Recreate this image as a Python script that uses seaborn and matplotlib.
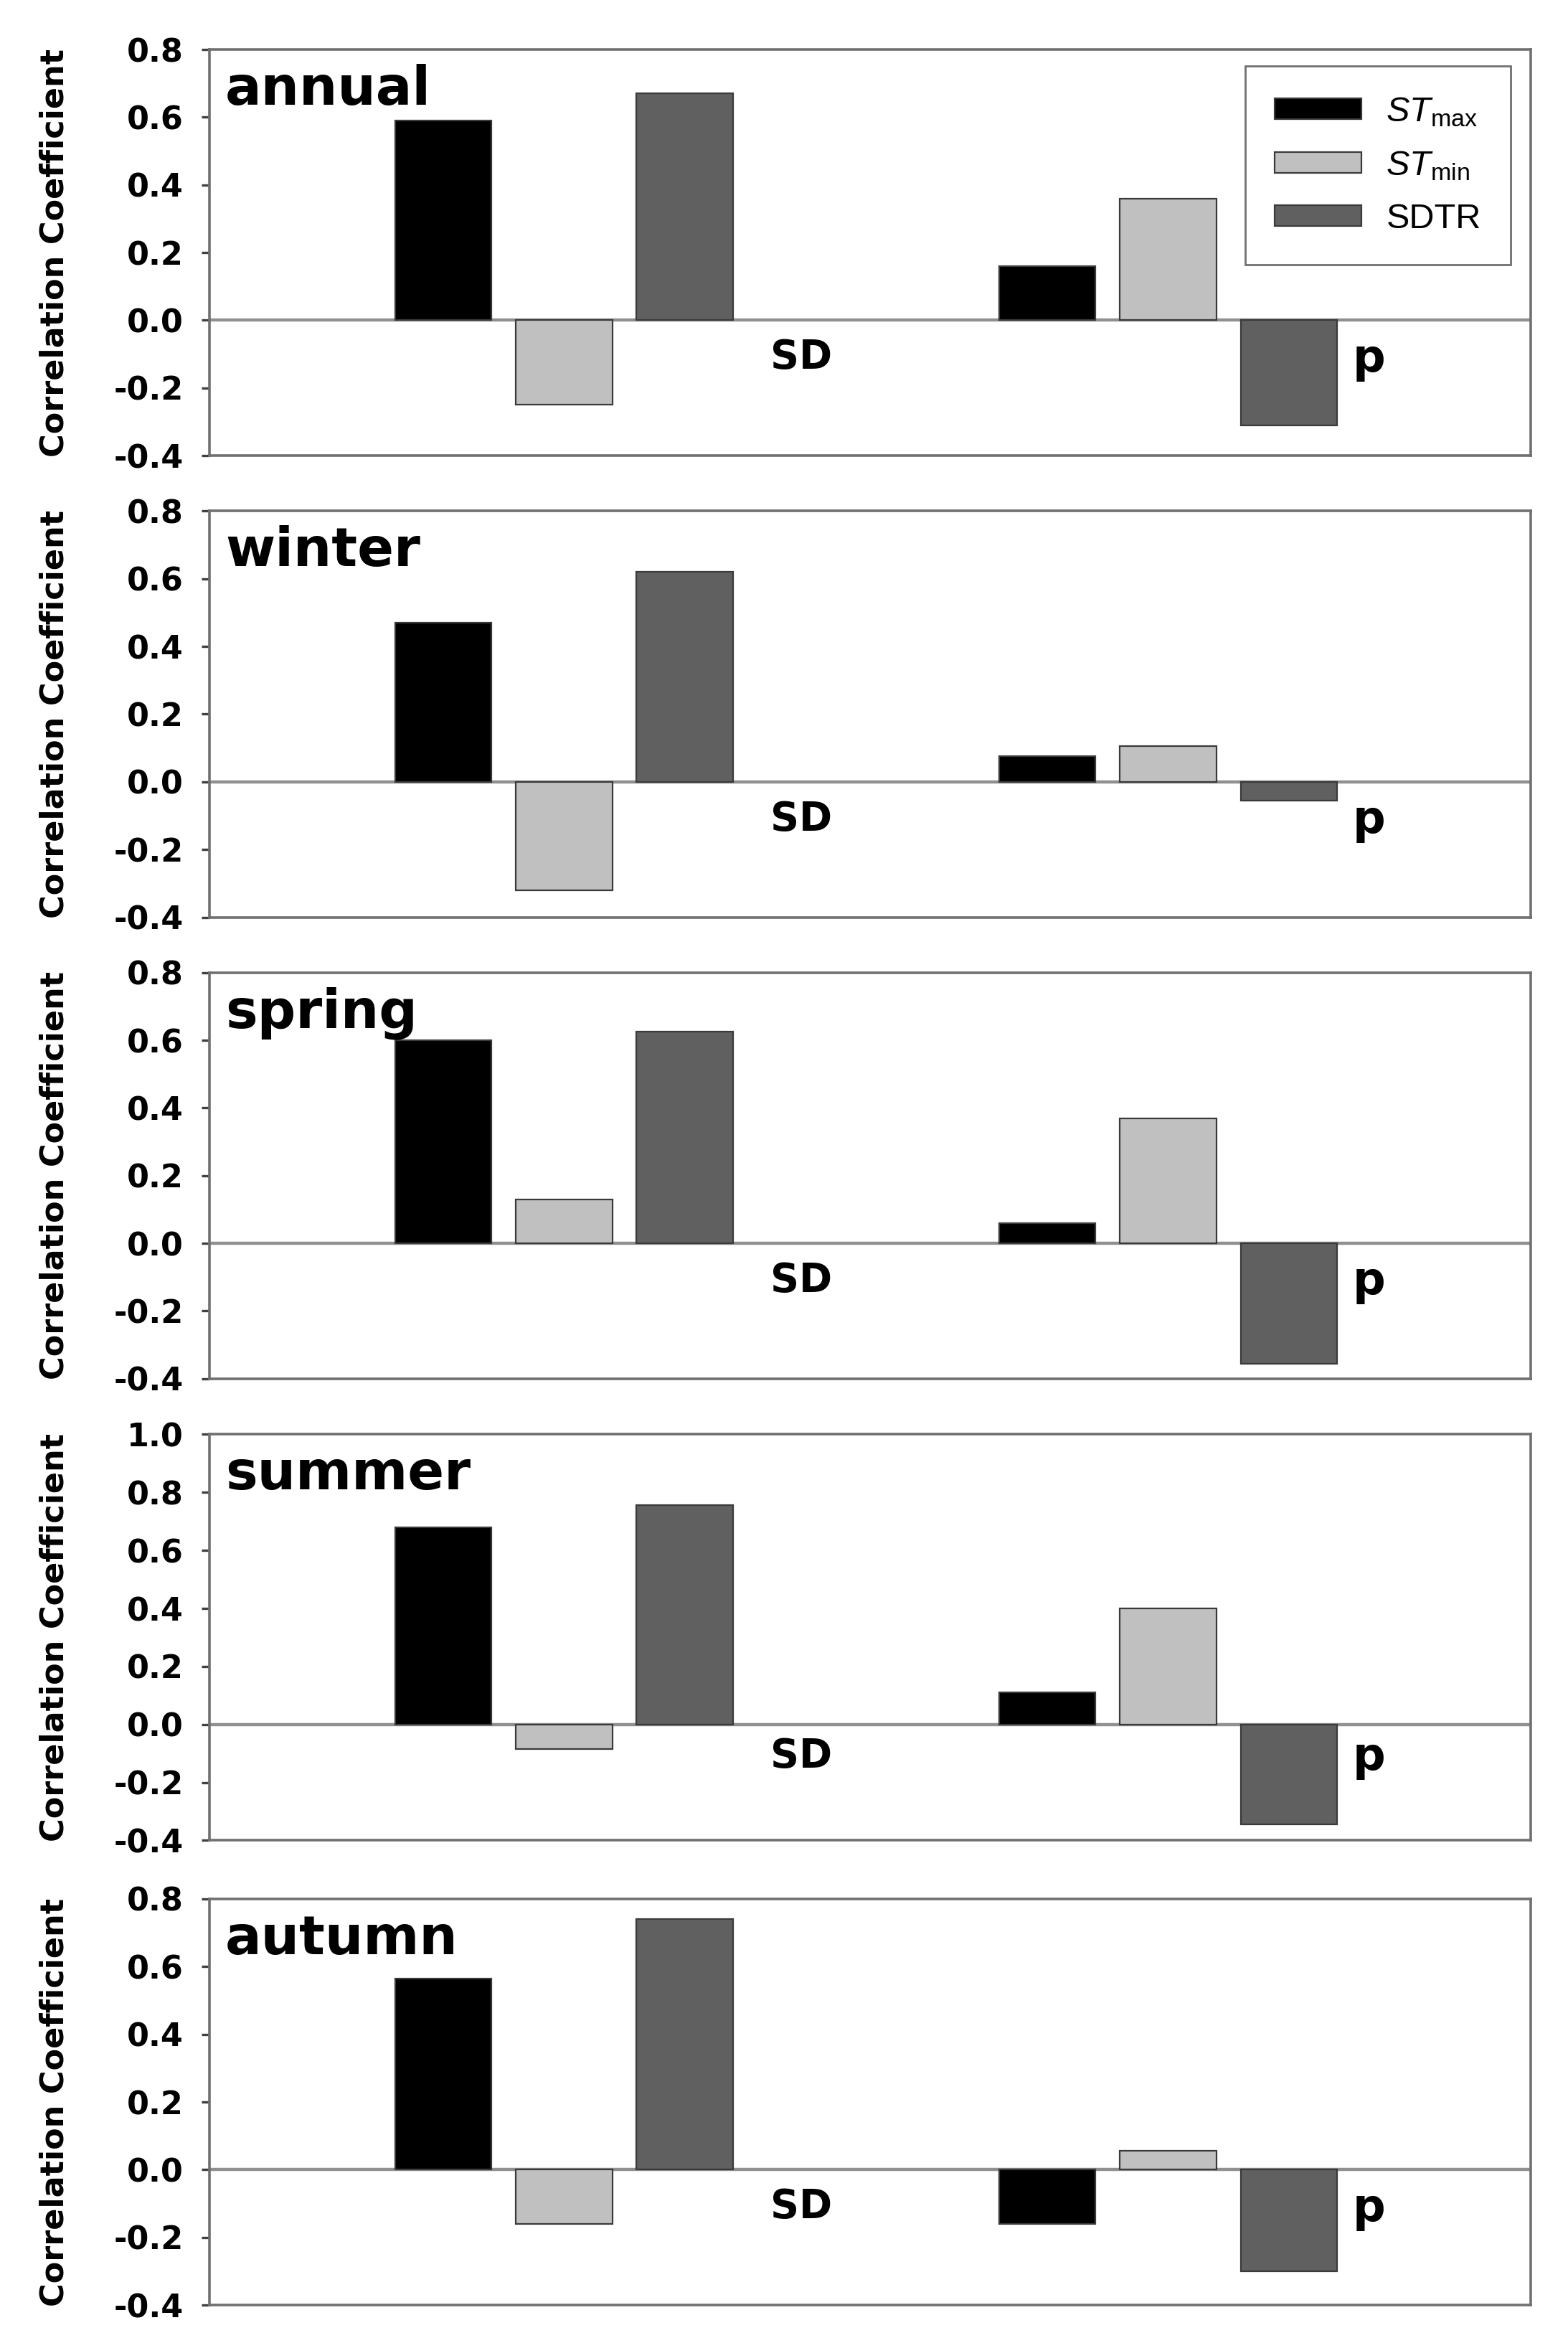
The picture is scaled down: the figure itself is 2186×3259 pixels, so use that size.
import numpy as np
import pandas as pd
import matplotlib
matplotlib.use("Agg")
import matplotlib.pyplot as plt
import seaborn as sns

# ─────────────────────────────────────────────
# DATA
# ─────────────────────────────────────────────
seasons = ["annual", "winter", "spring", "summer", "autumn"]
groups = ["SD", "p"]
variables = ["STmax", "STmin", "SDTR"]

# values per season: [SD group, p group] for each variable
st_max = {"annual": [0.59, 0.16], "winter": [0.47, 0.075], "spring": [0.60, 0.06],
          "summer": [0.68, 0.11], "autumn": [0.565, -0.16]}
st_min = {"annual": [-0.25, 0.36], "winter": [-0.32, 0.105], "spring": [0.13, 0.37],
          "summer": [-0.085, 0.40], "autumn": [-0.16, 0.055]}
sdtr = {"annual": [0.67, -0.31], "winter": [0.62, -0.055], "spring": [0.625, -0.355],
        "summer": [0.755, -0.345], "autumn": [0.74, -0.30]}

y_top = {"annual": 0.8, "winter": 0.8, "spring": 0.8, "summer": 1.0, "autumn": 0.8}
y_bottom = -0.4

legend_labels = [r"$\it{ST}_{\rm max}$", r"$\it{ST}_{\rm min}$", "SDTR"]
colors = ["#000000", "#c0c0c0", "#606060"]

# ─────────────────────────────────────────────
# PLOT
# ─────────────────────────────────────────────
sns.set_theme(style="ticks")
plt.rcParams['font.family'] = ['DejaVu Sans']
plt.rcParams['text.color'] = 'black'
plt.rcParams['axes.labelcolor'] = 'black'
plt.rcParams['ytick.color'] = 'black'
plt.rcParams['mathtext.fontset'] = 'custom'
plt.rcParams['mathtext.rm'] = 'Liberation Sans'
plt.rcParams['mathtext.it'] = 'Liberation Sans:italic'

fig = plt.figure(figsize=(10.93, 16.295), dpi=200)

left, width, height = 0.1336, 0.8425, 0.1737
bottoms = [0.8051, 0.6077, 0.4103, 0.2128, 0.0141]

for i, season in enumerate(seasons):
    ax = fig.add_axes([left, bottoms[i], width, height])

    rows = []
    for var, src in zip(variables, [st_max, st_min, sdtr]):
        for g, v in zip(groups, src[season]):
            rows.append({"group": g, "variable": var, "value": v})
    df = pd.DataFrame(rows)

    sns.barplot(data=df, x="group", y="value", hue="variable", order=groups,
                hue_order=variables, palette=colors, width=0.6, gap=0.2,
                edgecolor="#3a3a3a", linewidth=0.8, saturation=1, ax=ax)

    ax.axhline(0, color="#909090", lw=1.6, zorder=0.5)
    ax.set_xlim(-0.587, 1.6)
    ax.set_ylim(y_bottom, y_top[season])
    ax.set_yticks(np.round(np.arange(y_bottom, y_top[season] + 0.01, 0.2), 1))
    ax.yaxis.set_major_formatter(matplotlib.ticker.FormatStrFormatter('%.1f'))
    ax.set_xticks([])
    ax.set_xlabel("")
    ax.set_ylabel("Correlation Coefficient", fontsize=16, fontweight='bold', labelpad=22)
    ax.tick_params(axis='y', labelsize=16, length=4, width=1.2, pad=9,
                   color="#404040", labelcolor="black")
    for lab in ax.get_yticklabels():
        lab.set_fontweight('bold')
    for sp in ax.spines.values():
        sp.set_color("#707070")
        sp.set_linewidth(1.3)

    # season name and group labels
    ax.text(0.012, 0.965, season, transform=ax.transAxes, ha='left', va='top',
            fontsize=27, fontweight='bold')
    ax.text(0.393, -0.11, "SD", ha='center', va='center', fontsize=20, fontweight='bold')
    ax.text(1.333, -0.115, "p", ha='center', va='center', fontsize=23, fontweight='bold')

    if i == 0:
        handles, _ = ax.get_legend_handles_labels()
        ax.legend(handles, legend_labels, loc='upper right', bbox_to_anchor=(0.985, 0.96),
                  borderaxespad=0, fancybox=False, edgecolor="#707070", framealpha=1,
                  prop={'family': 'Liberation Sans', 'size': 17.5},
                  handlelength=2.5, handleheight=0.55, labelspacing=0.6,
                  borderpad=0.85, handletextpad=0.7)
    else:
        ax.get_legend().remove()

fig.savefig("out.png", dpi=200)
plt.close(fig)
